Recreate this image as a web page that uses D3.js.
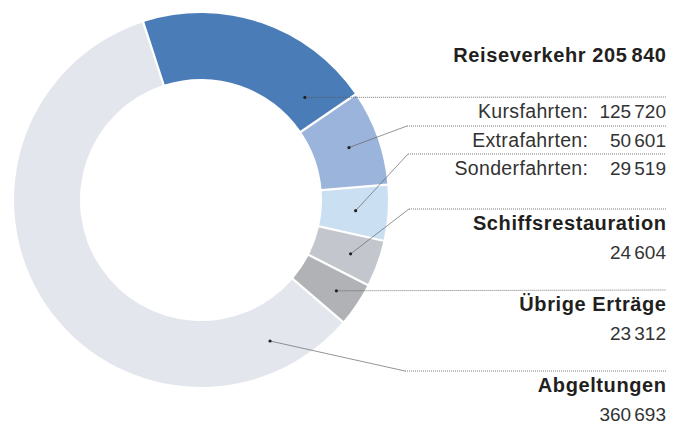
<!DOCTYPE html>
<html>
<head>
<meta charset="utf-8">
<script src="https://cdn.jsdelivr.net/npm/d3@7"></script>
<style>
    body { margin: 0; background: #fff; }
    text { font-family: "Liberation Sans", Arial, sans-serif; }
</style>
</head>
<body>
<div id="chart"></div>
<script>
// data
var categories = ["Kursfahrten", "Extrafahrten", "Sonderfahrten", "Schiffsrestauration", "Übrige Erträge", "Abgeltungen"]
var values = [125720, 50601, 29519, 24604, 23312, 360693]
var groupName = "Reiseverkehr"
var groupMembers = ["Kursfahrten", "Extrafahrten", "Sonderfahrten"]

var colors = ["#4a7db8", "#9bb4dc", "#cadff2", "#c3c7cd", "#b1b2b5", "#e3e7ed"]

var width = 680, height = 429
var cx = 201, cy = 200
var outerR = 187, innerR = 121
var rightEdge = 666

var fmt = d3.formatLocale({ decimal: ".", thousands: "\u2006", grouping: [3], currency: ["", ""] }).format(",d")

var svg = d3.select("#chart")
    .append("svg")
        .attr("width", width)
        .attr("height", height)

var data = categories.map(function(c, i){ return { name: c, value: values[i] } })

var pie = d3.pie()
    .sort(null)
    .value(function(d){ return d.value })
    .startAngle(-18 * Math.PI / 180)
    .endAngle((360 - 18) * Math.PI / 180)

var arcs = pie(data)

var arc = d3.arc()
    .innerRadius(innerR)
    .outerRadius(outerR)
    .padAngle(2.2 / outerR)
    .padRadius(outerR)

var ring = svg.append("g")
    .attr("transform", "translate(" + cx + "," + cy + ")")

ring.selectAll(".slice")
    .data(arcs)
    .enter()
    .append("path")
        .attr("class", "slice")
        .attr("d", arc)
        .attr("fill", function(d, i){ return colors[i] })

// where the leader line starts inside each slice (fraction along the slice, radius)
var anchorAt = [0.86, 0.5, 0.5, 0.5, 0.5, 0.11]
var anchorR = [146, 157, 155, 159, 163, 157]

// y of each leader's horizontal part and where the bend sits
var lineY = [97, 126, 154, 209, 290, 371]
var bendX = [null, 407, 408, 409, null, 405]

var leaders = svg.append("g")

arcs.forEach(function(d, i){
    var a = d.startAngle + (d.endAngle - d.startAngle) * anchorAt[i]
    var p = d3.arc().innerRadius(anchorR[i]).outerRadius(anchorR[i])
        .startAngle(a).endAngle(a).centroid()
    var px = cx + p[0], py = cy + p[1]

    if (bendX[i] == null){
        leaders.append("line")
            .attr("x1", px).attr("y1", py)
            .attr("x2", rightEdge).attr("y2", lineY[i])
            .attr("stroke", "#555")
            .attr("stroke-width", 0.8)
            .attr("stroke-dasharray", "1,1")
    } else {
        leaders.append("line")
            .attr("x1", px).attr("y1", py)
            .attr("x2", bendX[i]).attr("y2", lineY[i])
            .attr("stroke", "#666")
            .attr("stroke-width", 0.7)
        leaders.append("line")
            .attr("x1", bendX[i]).attr("y1", lineY[i])
            .attr("x2", rightEdge).attr("y2", lineY[i])
            .attr("stroke", "#555")
            .attr("stroke-width", 0.8)
            .attr("stroke-dasharray", "1,1")
    }

    leaders.append("circle")
        .attr("cx", px)
        .attr("cy", py)
        .attr("r", 1.6)
        .attr("fill", "#222")
})

// labels
var labels = svg.append("g")
    .attr("fill", "#231f20")

var groupTotal = d3.sum(data.filter(function(d){ return groupMembers.indexOf(d.name) >= 0 }), function(d){ return d.value })

function boldText(y, txt){
    labels.append("text")
        .attr("x", rightEdge + 0.6)
        .attr("y", y)
        .attr("text-anchor", "end")
        .attr("font-size", "20px")
        .attr("font-weight", "bold")
        .attr("letter-spacing", "0.6px")
        .text(txt)
}

function plainText(x, y, txt, spacing){
    labels.append("text")
        .attr("x", x + spacing)
        .attr("y", y)
        .attr("text-anchor", "end")
        .attr("font-size", spacing ? "19.5px" : "19px")
        .attr("letter-spacing", spacing + "px")
        .attr("fill", "#333")
        .text(txt)
}

boldText(62, groupName + " " + fmt(groupTotal))

data.forEach(function(d, i){
    if (groupMembers.indexOf(d.name) >= 0){
        plainText(588, lineY[i] + 21, d.name + ":", 0.35)
        plainText(rightEdge, lineY[i] + 21, fmt(d.value), 0)
    } else {
        boldText(lineY[i] + 21, d.name)
        plainText(rightEdge, lineY[i] + 50, fmt(d.value), 0)
    }
})
</script>
</body>
</html>
